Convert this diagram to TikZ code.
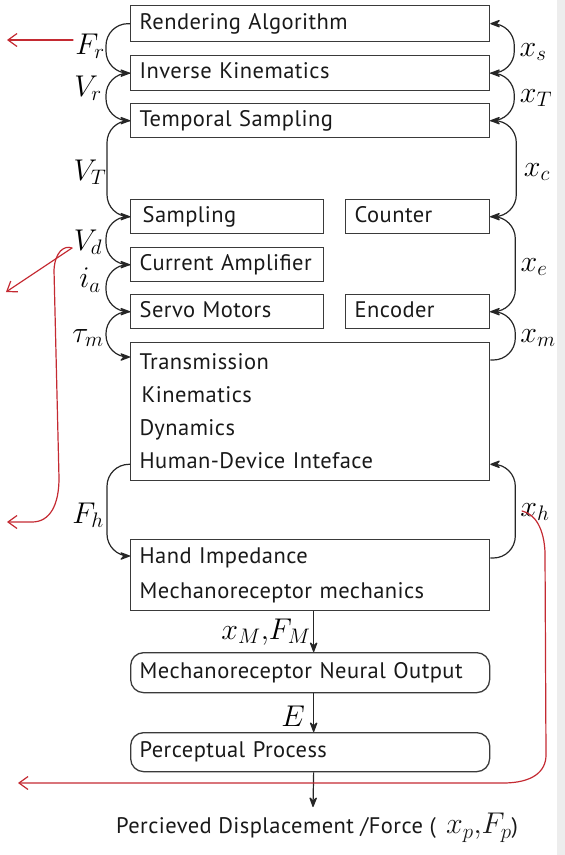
\RequirePackage{fix-cm}
\documentclass[tikz,border=0pt]{standalone}
\usepackage{fontspec}
\setmainfont{PT Sans}[LetterSpace=2.0]
\usetikzlibrary{arrows.meta,calc}
\definecolor{boxgray}{HTML}{3A3A3A}
\definecolor{inkred}{HTML}{C42A32}
\definecolor{edgegray}{HTML}{EDEDED}
\begin{document}
\begin{tikzpicture}[x=1pt,y=-1pt,
  blk/.style={draw=boxgray, line width=1.3pt, anchor=north west, inner ysep=0pt,
    inner xsep=9pt, align=left, font=\fontsize{22.5}{33}\selectfont, text=black!90},
  one/.style={blk, text height=16pt, text depth=5pt},
  rnd/.style={one, rounded corners=13pt},
  lab/.style={inner sep=0pt, font=\fontsize{30}{30}\selectfont},
  tip/.style={-{Stealth[length=12pt,width=9pt,inset=4pt,round=false]}},
  conn/.style={draw=black!85, line width=1.2pt, rounded corners=22pt, tip},
  flow/.style={draw=black!85, line width=1.2pt, tip},
  redpen/.style={draw=inkred, line width=1.2pt, line cap=round,
    -{Straight Barb[length=9pt,width=13pt]}}
]
\useasboundingbox (0,0) rectangle (565,855);
\fill[edgegray] (557,0) rectangle (565,855);

% processing chain
\node[one, text width=341pt, minimum height=36pt] (ra) at (130,5) {Rendering Algorithm};
\node[one, text width=341pt, minimum height=35pt] (ik) at (130,55) {Inverse Kinematics};
\node[one, text width=341pt, minimum height=34pt] (ts) at (130,103) {Temporal Sampling};
\node[one, text width=175pt, minimum height=34pt] (sa) at (130,199) {\hspace{3pt}Sampling};
\node[one, text width=126pt, minimum height=34pt] (co) at (345,199) {Counter};
\node[one, text width=175pt, minimum height=34pt] (ca) at (130,247) {Current Amplifier};
\node[one, text width=175pt, minimum height=34pt] (sm) at (130,294) {Servo Motors};
\node[one, text width=126pt, minimum height=34pt] (en) at (345,294) {Encoder};
\node[blk, text width=341pt, minimum height=138pt] (tr) at (130,342)
  {Transmission\\\hspace{2pt}Kinematics\\Dynamics\\Human-Device Inteface};
\node[blk, text width=341pt, minimum height=71pt, font=\fontsize{22.5}{35}\selectfont] (hi) at (130,539)
  {Hand Impedance\\Mechanoreceptor mechanics};
\node[rnd, text width=341pt, minimum height=40pt] (mn) at (130,652) {Mechanoreceptor Neural Output};
\node[rnd, text width=341pt, minimum height=39pt] (pp) at (130,732) {Perceptual Process};

% signals passed down the left side
\draw[conn] (ra.west) -- ++(-24,0) |- (ik.west);
\draw[conn] (ik.west) -- ++(-24,0) |- (ts.west);
\draw[conn] (ts.west) -- ++(-23,0) |- (sa.west);
\draw[conn] (sa.west) -- ++(-24,0) |- (ca.west);
\draw[conn] (ca.west) -- ++(-24,0) |- (sm.west);
\draw[conn] (sm.west) -- ++(-24,0) |- ([yshift=-15pt]tr.north west);
\draw[conn] ([yshift=17pt]tr.south west) -- ++(-23,0) |- ([yshift=-17pt]hi.north west);

% signals fed back up the right side
\draw[conn] (ik.east) -- ++(24,0) |- (ra.east);
\draw[conn] (ts.east) -- ++(24,0) |- (ik.east);
\draw[conn] (co.east) -- ++(26,0) |- (ts.east);
\draw[conn] (en.east) -- ++(25,0) |- (co.east);
\draw[conn] ([yshift=-18pt]tr.north east) -- ++(25,0) |- (en.east);
\draw[conn] ([yshift=-19pt]hi.north east) -- ++(25,0) |- ([yshift=17pt]tr.south east);

% perception chain
\coordinate (pout) at (313,807);
\draw[flow] ([xshift=3.5pt]hi.south) -- ([xshift=3.5pt]mn.north);
\draw[flow] ([xshift=3.5pt]mn.south) -- ([xshift=3.5pt]pp.north);
\draw[flow] ([xshift=3.5pt]pp.south) -- (pout);

% signal names
\node[lab] (lFr) at (90,46) {$F_r$};
\node[lab] (lVr) at (88,88) {$V_r$};
\node[lab] (lVT) at (90,172) {$V_T$};
\node[lab] (lVd) at (88,242) {$V_d$};
\node[lab] (lia) at (90,280) {$i_a$};
\node[lab] (ltm) at (88,338) {$\tau_m$};
\node[lab] (lFh) at (88,515) {$F_h$};
\node[lab] (lxs) at (533,52) {$x_s$};
\node[lab] (lxT) at (536,98) {$x_T$};
\node[lab] (lxc) at (537,172) {$x_c$};
\node[lab] (lxe) at (534,267) {$x_e$};
\node[lab] (lxm) at (538,338) {$x_m$};
\node[lab] (lxh) at (535,512) {$x_h$};
\node[lab] (lxF) at (266,632) {$x_M{,}F_M$};
\node[lab] (lE) at (293,716) {$E$};
\node[inner sep=0pt, font=\fontsize{22.5}{25}\selectfont, text=black!90] (res) at (317,828)
  {Percieved Displacement /Force (\, {\fontsize{30}{30}\selectfont$x_p{,}F_p$})};

% red annotations
\coordinate (r1a) at (73,40);  \coordinate (r1b) at (7,40);
\coordinate (r2a) at (72,248); \coordinate (r2b) at (6,292);
\coordinate (r3b) at (7,522);
\coordinate (r4a) at (522,511); \coordinate (r4b) at (18,783);
\draw[redpen] (r1a) -- (r1b);
\draw[redpen] (r2a) -- (r2b);
\draw[redpen] (r2a) .. controls (64,245) and (55,252) .. (54,270)
  -- (59,478) .. controls (59,505) and (50,522) .. (32,522) -- (r3b);
\draw[redpen] (r4a) .. controls (536,514) and (544,530) .. (545,552)
  -- (546,755) .. controls (546,772) and (532,783) .. (503,783) -- (r4b);
\end{tikzpicture}
\end{document}
